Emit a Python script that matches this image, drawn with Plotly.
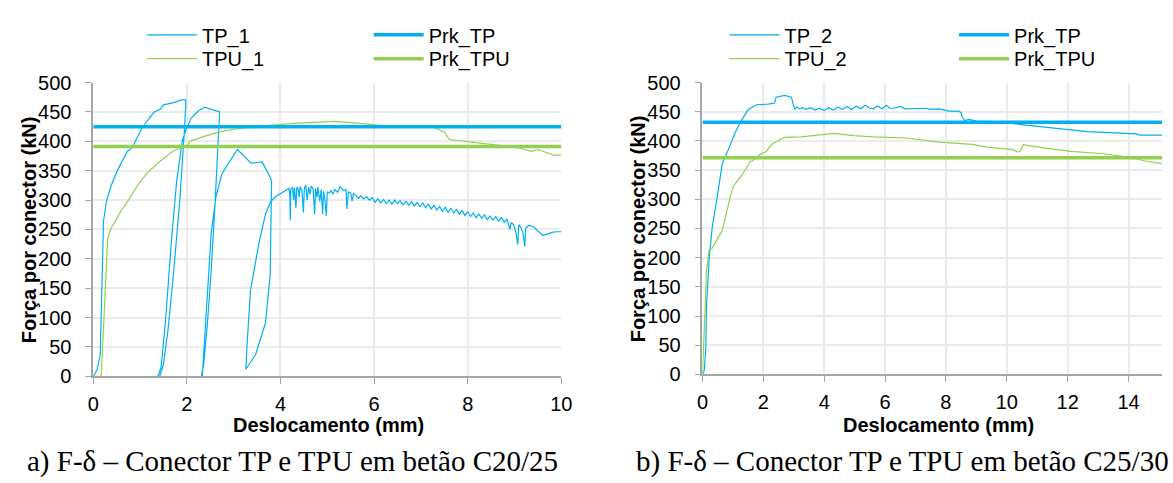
import plotly.graph_objects as go

W, H = 1173, 483


def px(x):
    return x / W


def py(y):
    return 1 - y / H


# ---------------- a) C20/25 ----------------
tp1_x = [0.0, 0.08, 0.15, 0.19, 0.22, 0.28, 0.38, 0.52, 0.73, 0.78, 0.85, 1.05, 1.29, 1.44, 1.5, 1.72, 1.86, 1.96, 1.98,
         1.95, 1.85, 1.72, 1.6, 1.5, 1.42,
         1.38, 1.45, 1.55, 1.67, 1.78, 1.9, 1.98, 2.1, 2.25, 2.38, 2.7,
         2.66, 2.6, 2.52, 2.44, 2.36, 2.31,
         2.33, 2.37, 2.45, 2.52, 2.62, 2.75, 2.95, 3.08, 3.37, 3.61, 3.79,
         3.81, 3.78, 3.68, 3.47, 3.27,
         3.26, 3.29, 3.36, 3.54, 3.68, 3.79, 3.9, 4.04, 4.18,
         4.20, 4.21, 4.22, 4.26, 4.28, 4.30, 4.33, 4.35, 4.38, 4.40, 4.42, 4.46, 4.49, 4.51, 4.54, 4.57, 4.60,
         4.63, 4.66, 4.70, 4.73, 4.75, 4.78, 4.80, 4.84, 4.87, 4.90, 4.92, 4.95, 4.98, 5.00, 5.04, 5.08, 5.12,
         5.16, 5.22, 5.27, 5.31, 5.36, 5.40, 5.42, 5.45, 5.50, 5.53, 5.56, 5.62, 5.67, 5.72, 5.78, 5.84, 5.90,
         5.96, 6.02, 6.08, 6.14, 6.20, 6.26, 6.32, 6.38, 6.44, 6.50, 6.56, 6.62, 6.68, 6.74, 6.80, 6.86, 6.92,
         6.98, 7.04, 7.10, 7.16, 7.22, 7.28, 7.34, 7.40, 7.46, 7.52, 7.58, 7.64, 7.70, 7.76, 7.82, 7.88, 7.94,
         8.00, 8.06, 8.12, 8.18, 8.24, 8.30, 8.36, 8.42, 8.48, 8.54, 8.60, 8.66, 8.72, 8.78, 8.84,
         8.90, 8.93, 8.98, 9.03, 9.07, 9.09, 9.13, 9.18, 9.22, 9.24, 9.30, 9.40, 9.50, 9.60, 9.70, 9.80, 9.90, 10.0]
tp1_y = [0, 10, 37, 145, 264, 297, 324, 351, 383, 385, 392, 424, 449, 455, 462, 466, 470, 471, 469,
         420, 300, 180, 80, 20, 0,
         0, 15, 100, 230, 330, 400, 420, 440, 452, 458, 450,
         380, 290, 180, 90, 20, 0,
         0, 50, 145, 243, 305, 345, 370, 386, 363, 365, 337,
         330, 172, 91, 37, 12,
         12, 58, 146, 227, 276, 297, 306, 313, 320,
         310, 265, 318, 322, 300, 321, 286, 322, 318, 305, 323, 315, 279, 320, 325, 300, 322,
         310, 324, 318, 276, 320, 305, 322, 298, 318, 276, 315, 300, 273, 314, 312, 316, 310,
         318, 313, 323, 320, 316, 318, 285, 314, 312, 298, 311, 308, 303, 307, 302, 306, 300,
         304, 296, 302, 295, 301, 294, 300, 293, 300, 294, 299, 292, 298, 291, 297, 290, 296,
         289, 295, 287, 293, 285, 291, 283, 289, 281, 288, 279, 286, 278, 284, 276, 282, 274,
         280, 272, 278, 270, 276, 269, 275, 267, 273, 266, 272, 264, 270, 262, 268,
         250, 262, 258, 245, 224, 258, 254, 245, 221, 252, 257, 255, 247, 240, 242, 245, 246, 246]

tpu1_x = [0.0, 0.17, 0.2, 0.24, 0.27, 0.31, 0.38, 0.46, 0.59, 0.73, 0.94, 1.15, 1.44, 1.72, 2.0, 2.07, 2.35, 2.7,
          3.05, 3.75, 4.38, 5.15, 5.64, 6.14, 7.26, 7.5, 7.61, 7.96, 8.59, 9.08, 9.36, 9.5, 9.64, 9.85, 10.0]
tpu1_y = [0, 0, 50, 120, 190, 235, 252, 262, 281, 297, 324, 346, 367, 384, 392, 400, 408, 416,
          421, 427, 431, 434, 431, 427, 424, 416, 403, 400, 394, 389, 383, 386, 382, 376, 377]

prk_a_x = [0, 10]
prk_tp_a = [425, 425]
prk_tpu_a = [391, 391]

# ---------------- b) C25/30 ----------------
tp2_x = [0.0, 0.06, 0.11, 0.13, 0.22, 0.32, 0.49, 0.65, 0.81, 0.92, 1.08, 1.30, 1.51, 1.78, 2.16, 2.37, 2.42, 2.70,
         2.92, 3.03, 3.1, 3.2, 3.3, 3.4, 3.55, 3.7, 3.85, 4.0, 4.15, 4.3, 4.45, 4.6, 4.75, 4.9, 5.05, 5.2, 5.35,
         5.5, 5.62, 5.75, 5.9, 6.05, 6.15, 6.3, 6.5, 6.65, 7.0, 7.35, 7.5, 7.78, 8.1, 8.43, 8.5, 8.54, 8.62, 8.75,
         9.0, 9.61, 10.48, 11.56, 12.64, 14.26, 14.37, 15.1]
tp2_y = [0, 7, 45, 116, 197, 252, 306, 361, 380, 394, 415, 437, 454, 462, 463, 465, 475, 478,
         475, 454, 458, 455, 457, 454, 457, 453, 456, 452, 457, 453, 458, 454, 459, 454, 460, 455, 461,
         456, 455, 460, 455, 461, 456, 456, 459, 455, 455, 456, 454, 455, 451, 451, 448, 440, 435, 437,
         434, 433, 428, 422, 416, 412, 410, 410]

tpu2_x = [0.0, 0.03, 0.09, 0.13, 0.22, 0.32, 0.43, 0.65, 0.81, 0.92, 1.02, 1.19, 1.40, 1.56, 1.73, 1.89, 2.1, 2.27,
          2.43, 2.7, 3.24, 3.57, 4.11, 4.32, 4.97, 5.62, 6.7, 7.78, 8.86, 9.4, 10.05, 10.2, 10.37, 10.45, 10.54,
          10.7, 11.24, 12.1, 13.18, 14.05, 14.5, 14.9, 15.1]
tpu2_y = [0, 34, 116, 176, 214, 216, 227, 246, 285, 306, 323, 334, 350, 364, 369, 377, 382, 394,
          399, 406, 407, 409, 411, 413, 409, 407, 405, 398, 394, 389, 386, 385, 381, 383, 394,
          392, 388, 382, 378, 372, 366, 362, 361]

prk_b_x = [0, 16]
prk_tp_b = [432, 432]
prk_tpu_b = [371, 371]

BLUE = "#00B0F0"
GREEN = "#92D050"
FONT = "Liberation Sans, Arial, sans-serif"

fig = go.Figure()
# name, x, y, colour, width, axes, legend id
series = [
    ("TP_1", tp1_x, tp1_y, BLUE, 1.2, "a", "legend"),
    ("TPU_1", tpu1_x, tpu1_y, GREEN, 1.2, "a", "legend2"),
    ("Prk_TP", prk_a_x, prk_tp_a, BLUE, 3.5, "a", "legend3"),
    ("Prk_TPU", prk_a_x, prk_tpu_a, GREEN, 3.5, "a", "legend4"),
    ("TP_2", tp2_x, tp2_y, BLUE, 1.2, "b", "legend5"),
    ("TPU_2", tpu2_x, tpu2_y, GREEN, 1.2, "b", "legend6"),
    ("Prk_TP", prk_b_x, prk_tp_b, BLUE, 3.5, "b", "legend7"),
    ("Prk_TPU", prk_b_x, prk_tpu_b, GREEN, 3.5, "b", "legend8"),
]
for name, xs, ys, col, lw, ax, lg in series:
    fig.add_trace(go.Scatter(x=xs, y=ys, mode="lines", name=name, line=dict(color=col, width=lw),
                             xaxis="x" if ax == "a" else "x2", yaxis="y" if ax == "a" else "y2", legend=lg))

xax = dict(dtick=2, tick0=0, showgrid=True, gridcolor="#EBEBEB", gridwidth=1.5, zeroline=False,
           showline=True, linecolor="#A6A6A6", linewidth=2, ticks="outside", ticklen=6, tickcolor="#A6A6A6",
           tickfont=dict(family=FONT, size=20, color="black"), ticklabelstandoff=3)
yax = dict(range=[0, 500], dtick=50, showgrid=True, gridcolor="#EBEBEB", gridwidth=1.5, zeroline=False,
           showline=True, linecolor="#A6A6A6", linewidth=1.5, ticks="outside", ticklen=6, tickcolor="#A6A6A6",
           tickfont=dict(family=FONT, size=20, color="black"), ticklabelstandoff=10)

leg = dict(orientation="v", font=dict(family=FONT, size=20, color="black"), bgcolor="rgba(0,0,0,0)",
           itemwidth=50, xanchor="left", yanchor="top")
# legend boxes: left edge and top, in pixels
leg_pos = {"legend": (138, 4.5), "legend2": (138, 29.5), "legend3": (368, 4.5), "legend4": (368, 29.5),
           "legend5": (729, 4.5), "legend6": (729, 29.5), "legend7": (962, 4.5), "legend8": (962, 29.5)}

fig.update_layout(
    width=W, height=H, margin=dict(l=0, r=0, t=0, b=0),
    plot_bgcolor="white", paper_bgcolor="white",
    xaxis=dict(domain=[px(88.5), px(563.5)], range=[0, 10], anchor="y", **xax),
    yaxis=dict(domain=[py(382.7), py(75)], anchor="x", **yax),
    xaxis2=dict(domain=[px(706.7), 1.0], range=[0, 15.1], anchor="y2", **xax),
    yaxis2=dict(domain=[py(380.7), py(75)], anchor="x2", **yax),
    showlegend=True,
)
for k, (lx, ly) in leg_pos.items():
    fig.update_layout({k: dict(x=px(lx), y=py(ly), **leg)})

title_font = dict(family=FONT, size=20, color="black")
cap_font = dict(family="Liberation Serif, Times New Roman, serif", size=29, color="black")
annots = [
    dict(text="<b>Força por conector (kN)</b>", x=px(23), y=py(229), textangle=-90, font=title_font),
    dict(text="<b>Força por conector (kN)</b>", x=px(641), y=py(228), textangle=-90, font=title_font),
    dict(text="<b>Deslocamento (mm)</b>", x=px(327), y=py(434), font=title_font),
    dict(text="<b>Deslocamento (mm)</b>", x=px(946), y=py(434), font=title_font),
    dict(text="a) F-δ – Conector TP e TPU em betão C20/25", x=px(19), y=py(472), xanchor="left", font=cap_font),
    dict(text="b) F-δ – Conector TP e TPU em betão C25/30", x=px(637), y=py(472), xanchor="left", font=cap_font),
]
for a in annots:
    a.setdefault("xanchor", "center")
    fig.add_annotation(xref="paper", yref="paper", yanchor="middle", showarrow=False, **a)

# drop the browser's default body margin so the figure fills the window exactly
fig.write_html("out.html", config={"displayModeBar": False},
               post_script="document.body.style.margin='0px';")
